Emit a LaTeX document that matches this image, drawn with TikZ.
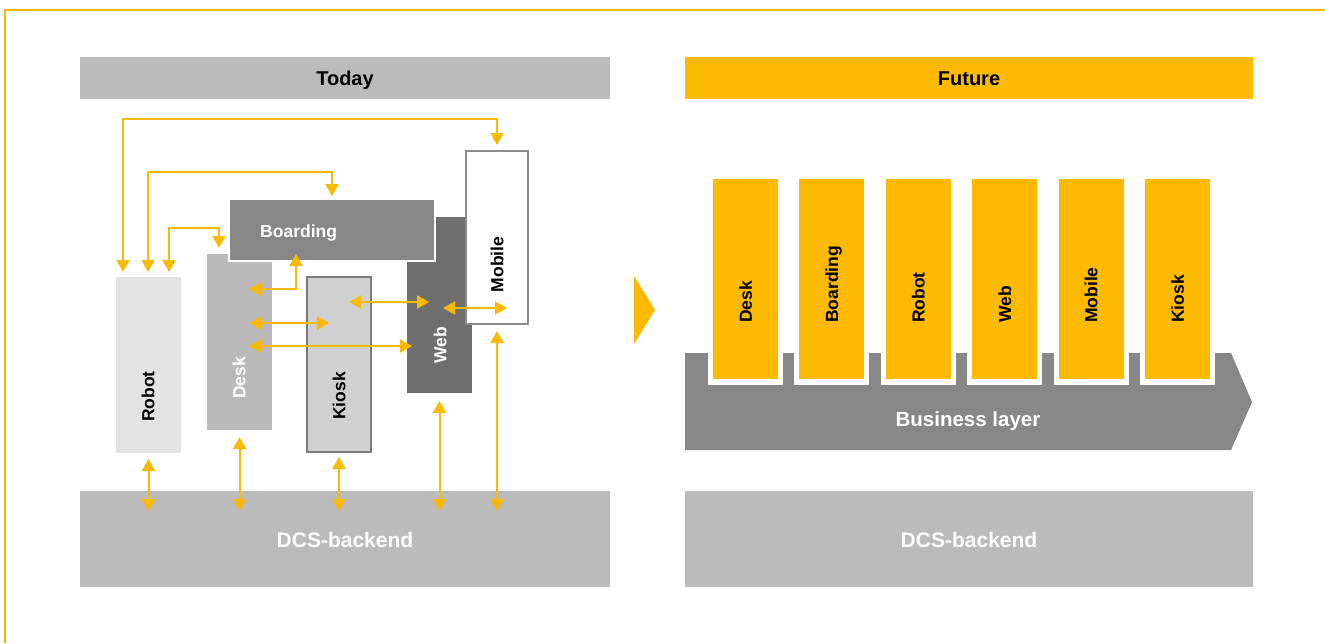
\documentclass[tikz,border=0pt]{standalone}
\usepackage{fontspec}
\setmainfont{Liberation Sans}
\usetikzlibrary{arrows.meta,calc}
\definecolor{yel}{HTML}{FBB900}
\definecolor{barc}{HTML}{BBBBBB}
\definecolor{boardc}{HTML}{878787}
\definecolor{webc}{HTML}{6F6F6F}
\definecolor{robotc}{HTML}{E3E3E3}
\definecolor{deskc}{HTML}{BABABA}
\definecolor{kioskc}{HTML}{D0D0D0}
\definecolor{kioskb}{HTML}{7A7A7A}
\definecolor{mobileb}{HTML}{8C8C8C}
\tikzset{
  box/.style={rectangle, inner sep=0pt, outer sep=0pt, anchor=north west},
  lab/.style={font=\bfseries\fontsize{17.5}{20}\selectfont, inner sep=0pt, rotate=90},
  conn/.style={draw=yel, line width=2pt,
    {Triangle[width=13pt,length=12pt] Triangle[length=0.01pt,width=0.01pt,sep=3.5pt]}-{Triangle[length=0.01pt,width=0.01pt,sep=3.5pt] Triangle[width=13pt,length=12pt]}},
  hdr/.style={font=\bfseries\fontsize{20}{24}\selectfont, inner sep=0pt, anchor=base},
  dcs/.style={box, fill=barc, minimum width=530pt, minimum height=96pt}
}
\begin{document}
\begin{tikzpicture}[x=1pt,y=-1pt]
\useasboundingbox (0,0) rectangle (1325,643);
\fill[white] (0,0) rectangle (1325,643);
\draw[yel, line width=2.5pt] (1325,10) -- (5,10) -- (5,643);

% ---------- Today ----------
\fill[barc] (80,57) rectangle (610,99);
\node[hdr] (today) at (345,85) {Today};

\node[box, fill=robotc, minimum width=65pt, minimum height=176pt] (robot) at (116,277) {};
\node[box, fill=deskc, minimum width=65pt, minimum height=176pt] (desk) at (207,254) {};
\node[box, fill=kioskc, draw=kioskb, line width=1.5pt, minimum width=64pt, minimum height=175pt] (kiosk) at (307,277) {};
\node[box, fill=webc, minimum width=65pt, minimum height=176pt] (web) at (407,217) {};
\node[box, fill=boardc, draw=white, line width=2.5pt, minimum width=206pt, minimum height=62pt] (boarding) at (229,199) {};
\node[box, fill=white, draw=mobileb, line width=2pt, minimum width=62pt, minimum height=173pt] (mobile) at (466,151) {};

\node[lab, anchor=base, text=black] (robotL) at (154.3,396.5) {Robot};
\node[lab, anchor=base, text=white] (deskL) at (245.3,378) {Desk};
\node[lab, anchor=base, text=black] (kioskL) at (345.3,396) {Kiosk};
\node[lab, anchor=base, text=white] (webL) at (446.3,345) {Web};
\node[lab, anchor=base, text=black] (mobileL) at (503.3,264.5) {Mobile};
\node[font=\bfseries\fontsize{17.5}{20}\selectfont, inner sep=0pt, anchor=base west, text=white] (boardingL) at (260,237) {Boarding};

\node[dcs] (dcsL) at (80,491) {};
\node[font=\bfseries\fontsize{21}{25}\selectfont, text=white, inner sep=0pt, anchor=base] (dcsLt) at (345,547) {DCS-backend};

% connectors
\draw[conn] ([xshift=7pt,yshift=5pt]robot.north west) -- ++(0,-153) -| ([yshift=6pt]mobile.north);
\draw[conn] ([xshift=32pt,yshift=5pt]robot.north west) -- ++(0,-100) -| ([yshift=3pt]boarding.north);
\draw[conn] ([xshift=53pt,yshift=5pt]robot.north west) -- ++(0,-44) -| ([xshift=12pt,yshift=6pt]desk.north west);
\draw[conn] ([xshift=-36pt,yshift=7pt]boarding.south) |- ([xshift=42pt,yshift=-35pt]desk.north west);
\draw[conn] ([xshift=42pt,yshift=-25pt]kiosk.north west) -- ([xshift=22pt,yshift=-85pt]web.north west);
\draw[conn] ([xshift=36pt,yshift=-91pt]web.north west) -- ([xshift=41pt,yshift=16pt]mobile.south west);
\draw[conn] ([xshift=42pt,yshift=-69pt]desk.north west) -- ([xshift=22pt,yshift=-46pt]kiosk.north west);
\draw[conn] ([xshift=42pt,yshift=-92pt]desk.north west) -- ([xshift=5pt,yshift=-129pt]web.north west);

\draw[conn] ([yshift=-6pt]robot.south) -- ([yshift=-20pt]robot.south |- dcsL.north);
\draw[conn] ([yshift=-7pt]desk.south) -- ([yshift=-20pt]desk.south |- dcsL.north);
\draw[conn] ([yshift=-5pt]kiosk.south) -- ([yshift=-20pt]kiosk.south |- dcsL.north);
\draw[conn] ([yshift=-8pt]web.south) -- ([yshift=-20pt]web.south |- dcsL.north);
\draw[conn] ([yshift=-7pt]mobile.south) -- ([yshift=-20pt]mobile.south |- dcsL.north);

% ---------- chevron ----------
\fill[yel] (634,276) -- (655,310) -- (634,344) -- cycle;

% ---------- Future ----------
\fill[yel] (685,57) rectangle (1253,99);
\node[hdr] (future) at (969,85) {Future};

\fill[boardc] (685,353) -- (1231,353) -- (1252,402) -- (1231,450) -- (685,450) -- cycle;
\node[font=\bfseries\fontsize{20.5}{24}\selectfont, text=white, inner sep=0pt, anchor=base] (business) at (968,426) {Business layer};

\foreach \x/\n/\t in {713/fdesk/Desk, 799.4/fboarding/Boarding, 885.8/frobot/Robot, 972.2/fweb/Web, 1058.6/fmobile/Mobile, 1145/fkiosk/Kiosk}{
  \fill[white] (\x-5,345) rectangle (\x+70,385);
  \node[box, fill=yel, minimum width=65pt, minimum height=200pt] (\n) at (\x,179) {};
  \node[lab, anchor=base west, text=black] (\n L) at (\x+38.8,323) {\t};
}

\node[dcs, minimum width=568pt] (dcsR) at (685,491) {};
\node[font=\bfseries\fontsize{21}{25}\selectfont, text=white, inner sep=0pt, anchor=base] (dcsRt) at (969,547) {DCS-backend};
\end{tikzpicture}
\end{document}
